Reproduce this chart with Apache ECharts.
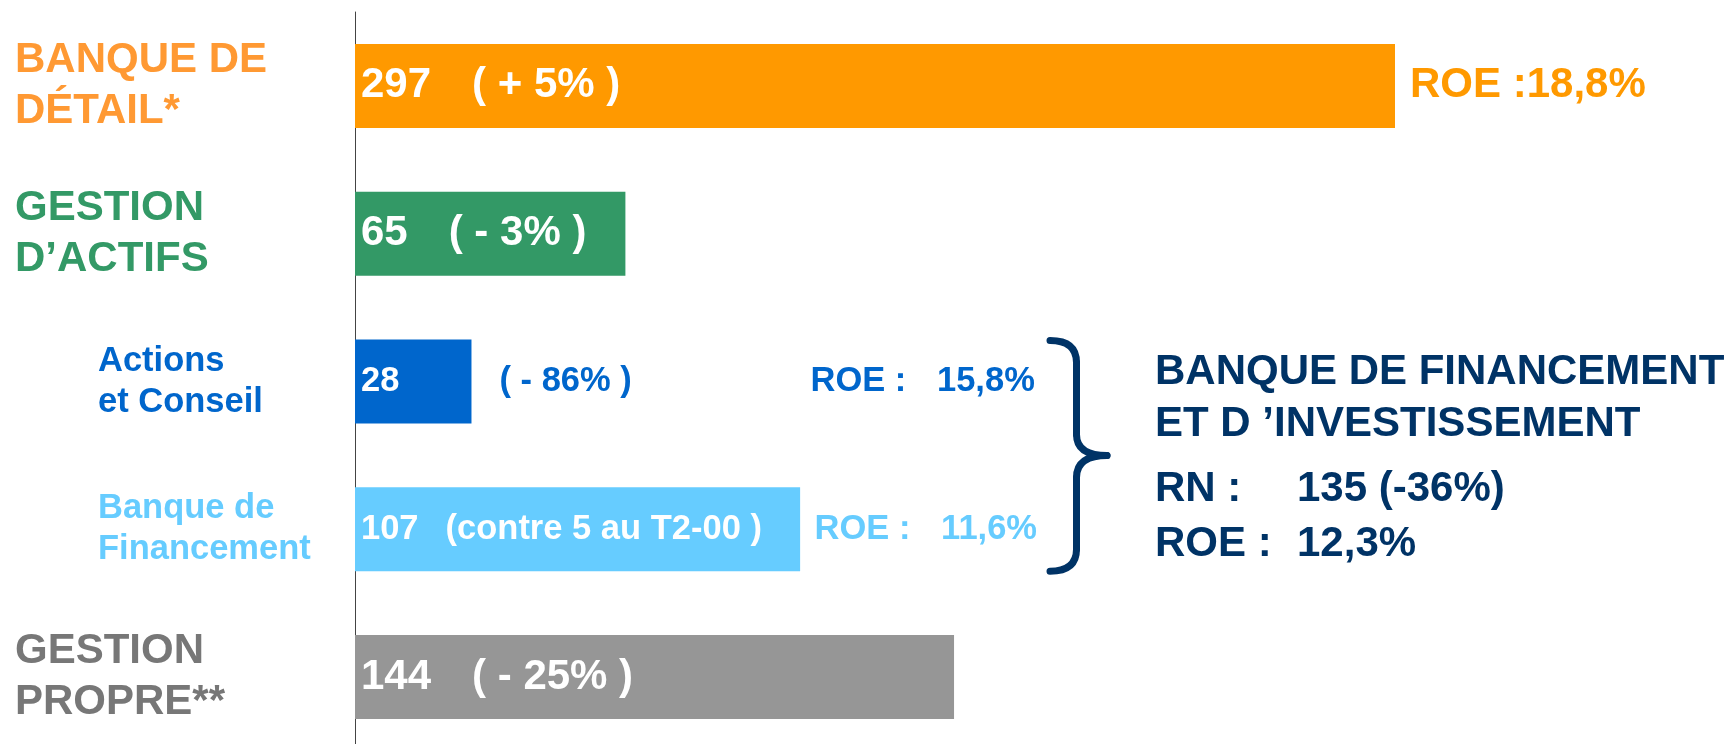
<!DOCTYPE html>
<html>
<head>
<meta charset="utf-8">
<title>Résultat net par pôle</title>
<script src="https://cdn.jsdelivr.net/npm/echarts@6.0.0/dist/echarts.min.js"></script>
<style>
  html, body { margin: 0; padding: 0; background: #ffffff; }
  #chart { width: 1733px; height: 744px; }
</style>
</head>
<body>
<div id="chart"></div>
<script>
// résultat net par pôle (M€) et variations
const categories = ['BANQUE DE\nDÉTAIL*', 'GESTION\nD’ACTIFS', 'Actions\net Conseil', 'Banque de\nFinancement', 'GESTION\nPROPRE**'];
const values = [297, 65, 28, 107, 144];
const changes = ['( + 5% )', '( - 3% )', '( - 86% )', '(contre 5 au T2-00 )', '( - 25% )'];
const roe = ['18,8%', '', '15,8%', '11,6%', ''];

// bloc BFI (à droite de l'accolade)
const bfiTitle = ['BANQUE DE FINANCEMENT', 'ET D ’INVESTISSEMENT'];
const bfiRn = 135;
const bfiRnChange = '-36%';
const bfiRoe = '12,3%';

const barColors = ['#FF9900', '#339966', '#0066CC', '#66CCFF', '#969696'];
const labelColors = ['#FF9933', '#339966', '#0066CC', '#66CCFF', '#777777'];
const roeColors = ['#FF9900', '#339966', '#0066CC', '#66CCFF', '#777777'];
const subRows = [2, 3]; // sous-lignes de la BFI : plus petites, en retrait
const NAVY = '#003366';
const FONT = '"Liberation Sans", Arial, Helvetica, sans-serif';
const SMALL = 34.5;

const chart = echarts.init(document.getElementById('chart'));

// styles des libellés de l'axe
const axisRich = {};
categories.forEach((c, i) => {
    const sub = subRows.includes(i);
    axisRich['r' + i] = {
        color: labelColors[i], fontFamily: FONT, fontWeight: 'bold',
        fontSize: sub ? SMALL : 42, lineHeight: sub ? 41 : 51,
        padding: sub ? [0, 0, 0, 83] : 0
    };
});

const insideRich = {
    n: { color: '#fff', fontFamily: FONT, fontWeight: 'bold', fontSize: 42 },
    c: { color: '#fff', fontFamily: FONT, fontWeight: 'bold', fontSize: 42, padding: [0, 0, 0, 41] },
    ns: { color: '#fff', fontFamily: FONT, fontWeight: 'bold', fontSize: SMALL },
    cs: { color: '#fff', fontFamily: FONT, fontWeight: 'bold', fontSize: SMALL, padding: [0, 0, 0, 27] }
};

// barres + libellés à l'intérieur
const mainData = values.map((v, i) => {
    const sub = subRows.includes(i);
    const outside = v < 40;
    const n = sub ? 'ns' : 'n', c = sub ? 'cs' : 'c';
    return {
        value: v,
        itemStyle: { color: barColors[i] },
        label: { formatter: outside ? `{${n}|${v}}` : `{${n}|${v}}{${c}|${changes[i]}}` }
    };
});

// libellés à droite des barres (ROE, variation si barre trop courte)
const outerData = values.map((v, i) => {
    const sub = subRows.includes(i);
    const outside = v < 40;
    const base = { color: roeColors[i], fontFamily: FONT, fontWeight: 'bold' };
    let formatter = '';
    let distance = 15;
    if (!sub && roe[i]) {
        formatter = `{b|ROE :${roe[i]}}`;
    } else if (sub) {
        formatter = (outside ? `{p|${changes[i]}}` : '') + `{k|ROE :}{v|${roe[i]}}`;
        distance = outside ? 28 : 14.5;
    }
    return {
        value: v,
        label: {
            show: formatter !== '',
            formatter: formatter,
            distance: distance,
            rich: {
                b: Object.assign({ fontSize: 42 }, base),
                p: Object.assign({ fontSize: SMALL, width: 311 }, base),
                k: Object.assign({ fontSize: SMALL, width: 126.5 }, base),
                v: Object.assign({ fontSize: SMALL }, base)
            }
        }
    };
});

chart.setOption({
    animation: false,
    backgroundColor: '#ffffff',
    grid: { left: 355, top: 12, width: 1040, height: 739, containLabel: false, outerBoundsMode: 'none' },
    xAxis: {
        type: 'value', min: 0, max: 250, show: false,
        splitLine: { show: false }
    },
    yAxis: {
        type: 'category', data: categories, inverse: true,
        axisLine: { show: true, lineStyle: { color: '#444444', width: 1 } },
        axisTick: { show: false },
        splitLine: { show: false },
        axisLabel: {
            margin: 340, align: 'left',
            formatter: (val, idx) => val.split('\n').map(l => `{r${idx}|${l}}`).join('\n'),
            rich: axisRich
        }
    },
    series: [
        {
            type: 'bar', data: mainData, barWidth: 84, clip: true,
            label: { show: true, position: 'insideLeft', distance: 6, rich: insideRich }
        },
        {
            type: 'bar', data: outerData, barWidth: 84, barGap: '-100%', clip: true, silent: true,
            itemStyle: { color: 'rgba(0,0,0,0)' },
            label: { show: true, position: 'right' }
        }
    ]
});

// accolade + bloc BFI, placés d'après les catégories de la BFI
const yA = chart.convertToPixel({ yAxisIndex: 0 }, categories[subRows[0]]);
const yB = chart.convertToPixel({ yAxisIndex: 0 }, categories[subRows[1]]);
const mid = (yA + yB) / 2;
const braceTop = yA - 41, braceBottom = yB + 42;
const xe = 1050, xv = 1076.5, xt = 1107;
const brace = { stroke: NAVY, lineWidth: 7, fill: null, lineCap: 'round' };

const tx = 1155, tv = 1297, fs = 42, off = fs * 0.35 - 4;
const txt = (x, baseline, s) => ({
    type: 'text', x: x, y: baseline - off,
    style: { text: s, fill: NAVY, font: `bold ${fs}px ${FONT}`, verticalAlign: 'middle', align: 'left' }
});

chart.setOption({
    graphic: [
        { type: 'bezierCurve', shape: { x1: xe, y1: braceTop, cpx1: xv, cpy1: braceTop, x2: xv, y2: braceTop + 22 }, style: brace },
        { type: 'line', shape: { x1: xv, y1: braceTop + 22, x2: xv, y2: mid - 21 }, style: brace },
        { type: 'bezierCurve', shape: { x1: xv, y1: mid - 21, cpx1: xv, cpy1: mid, x2: xt, y2: mid }, style: brace },
        { type: 'bezierCurve', shape: { x1: xt, y1: mid, cpx1: xv, cpy1: mid, x2: xv, y2: mid + 22 }, style: brace },
        { type: 'line', shape: { x1: xv, y1: mid + 22, x2: xv, y2: braceBottom - 22 }, style: brace },
        { type: 'bezierCurve', shape: { x1: xv, y1: braceBottom - 22, cpx1: xv, cpy1: braceBottom, x2: xe, y2: braceBottom }, style: brace },
        txt(tx, mid - 72, bfiTitle[0]),
        txt(tx, mid - 20.5, bfiTitle[1]),
        txt(tx, mid + 44.5, 'RN :'),
        txt(tv, mid + 44.5, `${bfiRn} (${bfiRnChange})`),
        txt(tx, mid + 100, 'ROE :'),
        txt(tv, mid + 100, bfiRoe)
    ]
});
</script>
</body>
</html>
